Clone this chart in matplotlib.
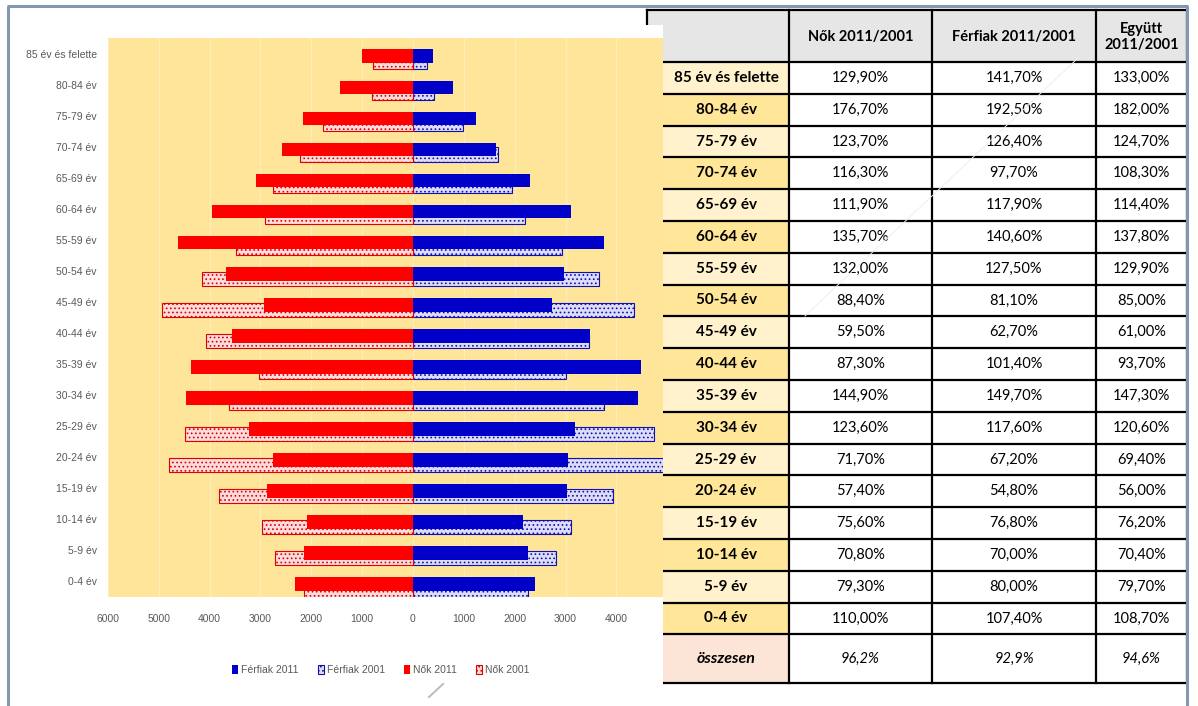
import numpy as np
import matplotlib.pyplot as plt
from matplotlib.patches import Rectangle

W, H = 1198, 706

age_groups = ['85 év és felette', '80-84 év', '75-79 év', '70-74 év', '65-69 év',
              '60-64 év', '55-59 év', '50-54 év', '45-49 év', '40-44 év',
              '35-39 év', '30-34 év', '25-29 év', '20-24 év', '15-19 év',
              '10-14 év', '5-9 év', '0-4 év']

men_2011 = [390, 790, 1240, 1630, 2300, 3110, 3760, 2970, 2740, 3480,
            4490, 4430, 3190, 3050, 3030, 2170, 2260, 2400]
men_2001 = [275, 410, 980, 1670, 1950, 2200, 2940, 3660, 4350, 3460,
            3010, 3760, 4740, 5570, 3940, 3110, 2820, 2260]
women_2011 = [1000, 1440, 2160, 2580, 3090, 3960, 4620, 3680, 2930, 3560,
              4370, 4470, 3230, 2750, 2870, 2090, 2150, 2320]
women_2001 = [790, 810, 1770, 2220, 2760, 2910, 3490, 4150, 4940, 4080,
              3030, 3620, 4490, 4800, 3820, 2970, 2720, 2150]

x_ticks = [-6000, -5000, -4000, -3000, -2000, -1000, 0, 1000, 2000, 3000, 4000]

# table: 2011/2001 ratios in percent
table_header = ['Nők 2011/2001', 'Férfiak 2011/2001', 'Együtt\n2011/2001']
nok_pct = [129.9, 176.7, 123.7, 116.3, 111.9, 135.7, 132.0, 88.4, 59.5, 87.3,
           144.9, 123.6, 71.7, 57.4, 75.6, 70.8, 79.3, 110.0]
ferfi_pct = [141.7, 192.5, 126.4, 97.7, 117.9, 140.6, 127.5, 81.1, 62.7, 101.4,
             149.7, 117.6, 67.2, 54.8, 76.8, 70.0, 80.0, 107.4]
egyutt_pct = [133.0, 182.0, 124.7, 108.3, 114.4, 137.8, 129.9, 85.0, 61.0, 93.7,
              147.3, 120.6, 69.4, 56.0, 76.2, 70.4, 79.7, 108.7]
total_label = 'összesen'
total_pct = [96.2, 92.9, 94.6]


def px_rect(x0, y0, x1, y1):
    return [x0 / W, 1 - y1 / H, (x1 - x0) / W, (y1 - y0) / H]


def pct(v, nd=2):
    return f'{v:.{nd}f}%'.replace('.', ',')


plt.rcParams['hatch.linewidth'] = 0.7
fig = plt.figure(figsize=(W / 100, H / 100), dpi=100)

# ---- page layer: table, frame ----
page = fig.add_axes([0, 0, 1, 1], zorder=0)
page.set_xlim(0, W)
page.set_ylim(H, 0)
page.axis('off')

tfont = ['Lato', 'DejaVu Sans']
col_x = [647, 789, 932, 1096, 1187]
top, head_bot, row_h, bot = 10, 62, 31.8, 683
row_edges = [head_bot + row_h * i for i in range(len(age_groups) + 1)] + [bot]

page.add_patch(Rectangle((col_x[0], top), col_x[-1] - col_x[0], head_bot - top,
                         fc='#E7E6E6', ec='none', zorder=1))
for i in range(len(age_groups)):
    fc = '#FFE699' if i % 2 else '#FFF2CC'
    page.add_patch(Rectangle((col_x[0], row_edges[i]), col_x[1] - col_x[0], row_h,
                             fc=fc, ec='none', zorder=1))
page.add_patch(Rectangle((col_x[0], row_edges[-2]), col_x[1] - col_x[0],
                         bot - row_edges[-2], fc='#FCE4D6', ec='none', zorder=1))

for y in [top] + row_edges:
    page.plot([col_x[0], col_x[-1]], [y, y], color='black', lw=1.6, zorder=2)
for x in col_x:
    page.plot([x, x], [top, bot], color='black', lw=1.6, zorder=2)

centers = [(col_x[j] + col_x[j + 1]) / 2 for j in range(4)]
label_cx = (663 + col_x[1]) / 2
for j, h in enumerate(table_header):
    page.text(centers[j + 1], (top + head_bot) / 2 + 1, h, ha='center', va='center',
              fontsize=10.5, fontweight='bold', family=tfont, linespacing=1.2, zorder=3)
for i, lab in enumerate(age_groups):
    yc = row_edges[i] + row_h / 2
    page.text(label_cx, yc, lab, ha='center', va='center', fontsize=11,
              fontweight='bold', family=tfont, zorder=3)
    for j, vals in enumerate([nok_pct, ferfi_pct, egyutt_pct]):
        page.text(centers[j + 1], yc, pct(vals[i]), ha='center', va='center',
                  fontsize=10.5, family=tfont, zorder=3)
yc = (row_edges[-2] + bot) / 2
page.text(label_cx, yc, total_label, ha='center', va='center', fontsize=11.5,
          fontweight='bold', style='italic', family=tfont, zorder=3)
for j, v in enumerate(total_pct):
    page.text(centers[j + 1], yc, pct(v, 1), ha='center', va='center', fontsize=10.5,
              style='italic', family=tfont, zorder=3)

# faint stray strokes
page.plot([1078, 805], [58, 316], color='#EEEEEE', lw=0.7, zorder=4)
page.plot([429, 443], [697, 684], color='#BBBBBB', lw=1.4, zorder=6)

# chart picture pasted over the table's left edge
page.add_patch(Rectangle((10, 25), 663 - 10, H - 25, fc='white', ec='none', zorder=5))

frame = '#8497B0'
page.plot([8, 8], [6, H], color=frame, lw=2.2, zorder=7, solid_capstyle='butt')
page.plot([6.5, 1188], [6, 6], color=frame, lw=2.2, zorder=7, solid_capstyle='butt')
page.plot([1187, 1187], [6, H], color=frame, lw=2.2, zorder=7, solid_capstyle='butt')

# ---- pyramid chart ----
cfont = ['Liberation Sans', 'DejaVu Sans']
grey = '#595959'
ax = fig.add_axes(px_rect(108, 38, 663, 597), zorder=2)
ax.set_facecolor('#FFE599')
y = np.arange(len(age_groups))

b_m01 = ax.barh(y + 0.255, men_2001, height=0.46, color='#DCDCF6', edgecolor='#1010B0',
                hatch='....', linewidth=0.8, zorder=2)
b_w01 = ax.barh(y + 0.255, [-v for v in women_2001], height=0.46, color='#FBDCDC',
                edgecolor='#E00000', hatch='....', linewidth=0.8, zorder=2)
b_m11 = ax.barh(y + 0.09, men_2011, height=0.44, color='#0000C8', zorder=3)
b_w11 = ax.barh(y + 0.09, [-v for v in women_2011], height=0.44, color='#FF0000', zorder=3)

ax.set_xlim(-6000, 6000 * (663 - 413) / (413 - 108))
ax.set_ylim(len(age_groups) - 0.5, -0.5)
ax.set_xticks(x_ticks)
ax.set_xticklabels([str(abs(t)) for t in x_ticks], family=cfont, fontsize=7.5, color=grey)
ax.set_yticks(y)
ax.set_yticklabels(age_groups, family=cfont, fontsize=7.5, color=grey)
ax.tick_params(axis='x', length=0, pad=12)
ax.tick_params(axis='y', length=0, pad=8)
for t in x_ticks:
    ax.axvline(t, color='white', alpha=0.3, lw=1, zorder=1)
for s in ax.spines.values():
    s.set_visible(False)

fig.legend([b_m11, b_m01, b_w11, b_w01],
           ['Férfiak 2011', 'Férfiak 2001', 'Nők 2011', 'Nők 2001'],
           loc='center', bbox_to_anchor=(381 / W, 1 - 670 / H), ncol=4, frameon=False,
           prop={'family': cfont, 'size': 7.5}, labelcolor=grey,
           handlelength=0.6, handleheight=1.0, handletextpad=0.3, columnspacing=1.8)

fig.savefig('out.png', dpi=100)
